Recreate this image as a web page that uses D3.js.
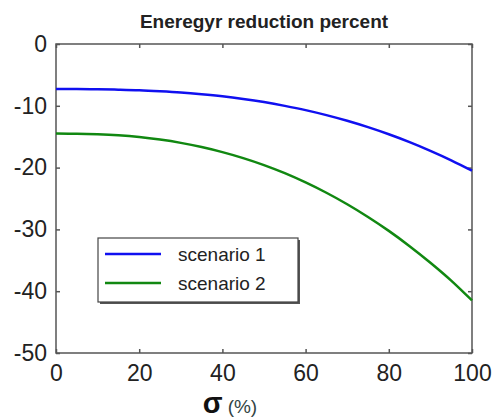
<!DOCTYPE html>
<html><head><meta charset="utf-8">
<script src="https://cdn.jsdelivr.net/npm/d3@7/dist/d3.min.js"></script>
<style>body{margin:0;background:#fff}</style>
</head><body>
<script>
const sigma = [0,5,10,15,20,25,30,35,40,45,50,55,60,65,70,75,80,85,90,95,100];
const scenario1 = [-7.3,-7.3,-7.33,-7.39,-7.48,-7.64,-7.84,-8.12,-8.46,-8.89,-9.4,-10.01,-10.7,-11.51,-12.43,-13.46,-14.61,-15.88,-17.29,-18.82,-20.5];
const scenario2 = [-14.5,-14.52,-14.61,-14.78,-15.06,-15.47,-16.0,-16.67,-17.49,-18.46,-19.59,-20.9,-22.4,-24.07,-25.93,-27.99,-30.24,-32.71,-35.39,-38.28,-41.5];
const xTicks = [0,20,40,60,80,100];
const yTicks = [0,-10,-20,-30,-40,-50];
const seriesNames = ["scenario 1","scenario 2"];
const colors = ["#1010f0","#118811"];

const W=493,H=419, L=56,R=472,T=44,B=353;
const svg=d3.select("body").append("svg").attr("width",W).attr("height",H);
const x=d3.scaleLinear().domain([0,100]).range([L,R]);
const y=d3.scaleLinear().domain([-50,0]).range([B,T]);
const axisColor="#555";
const font="Liberation Sans, Arial, sans-serif";
const fmt=d=>String(d);

// box
svg.append("rect").attr("x",L).attr("y",T).attr("width",R-L).attr("height",B-T)
  .attr("fill","#fff").attr("stroke",axisColor).attr("stroke-width",1.5);

const ax=(g)=>g.selectAll(".domain").remove();
svg.append("g").attr("transform",`translate(0,${B})`)
  .call(d3.axisBottom(x).tickValues(xTicks).tickSize(-4).tickPadding(12).tickFormat(fmt))
  .call(ax).call(g=>{g.selectAll("line").attr("stroke",axisColor).attr("stroke-width",1.5);
    g.selectAll("text").attr("font-family",font).attr("font-size",23).attr("fill","#222");});
svg.append("g").attr("transform",`translate(0,${T})`)
  .call(d3.axisTop(x).tickValues(xTicks).tickSize(-4).tickFormat(""))
  .call(ax).call(g=>g.selectAll("line").attr("stroke",axisColor).attr("stroke-width",1.5));
svg.append("g").attr("transform",`translate(${L},0)`)
  .call(d3.axisLeft(y).tickValues(yTicks).tickSize(-4).tickPadding(9).tickFormat(fmt))
  .call(ax).call(g=>{g.selectAll("line").attr("stroke",axisColor).attr("stroke-width",1.5);
    g.selectAll("text").attr("font-family",font).attr("font-size",23).attr("fill","#222");});
svg.append("g").attr("transform",`translate(${R},0)`)
  .call(d3.axisRight(y).tickValues(yTicks).tickSize(-4).tickFormat(""))
  .call(ax).call(g=>g.selectAll("line").attr("stroke",axisColor).attr("stroke-width",1.5));

// lines
const line=d3.line().x((d,i)=>x(sigma[i])).y(d=>y(d)).curve(d3.curveMonotoneX);
[scenario1,scenario2].forEach((s,k)=>{
  svg.append("path").datum(s).attr("d",line).attr("fill","none")
    .attr("stroke",colors[k]).attr("stroke-width",2.5);
});

// title
svg.append("text").attr("x",(L+R)/2).attr("y",28).attr("text-anchor","middle")
  .attr("font-family",font).attr("font-weight","bold").attr("font-size",19).attr("fill","#222")
  .text("Eneregyr reduction percent");

// x label
const xl=svg.append("text").attr("x",230).attr("y",413).attr("text-anchor","middle").attr("font-family",font);
xl.append("tspan").attr("font-size",29).attr("font-weight","bold").attr("fill","#111").text("σ");
xl.append("tspan").attr("font-size",19).attr("fill","#344").attr("dx",5).text("(%)");

// legend
const lx=98, ly=238, lw=200, lh=64;
svg.append("rect").attr("x",lx+2).attr("y",ly+2).attr("width",lw).attr("height",lh).attr("fill","#555");
svg.append("rect").attr("x",lx).attr("y",ly).attr("width",lw).attr("height",lh)
  .attr("fill","#fff").attr("stroke","#444").attr("stroke-width",1.2);
seriesNames.forEach((n,k)=>{
  const yy=ly+16+k*29;
  svg.append("line").attr("x1",105).attr("x2",161).attr("y1",yy).attr("y2",yy)
    .attr("stroke",colors[k]).attr("stroke-width",2.5);
  svg.append("text").attr("x",178).attr("y",yy+7).attr("font-family",font).attr("font-size",19)
    .attr("fill","#222").text(n);
});
</script>
</body></html>
